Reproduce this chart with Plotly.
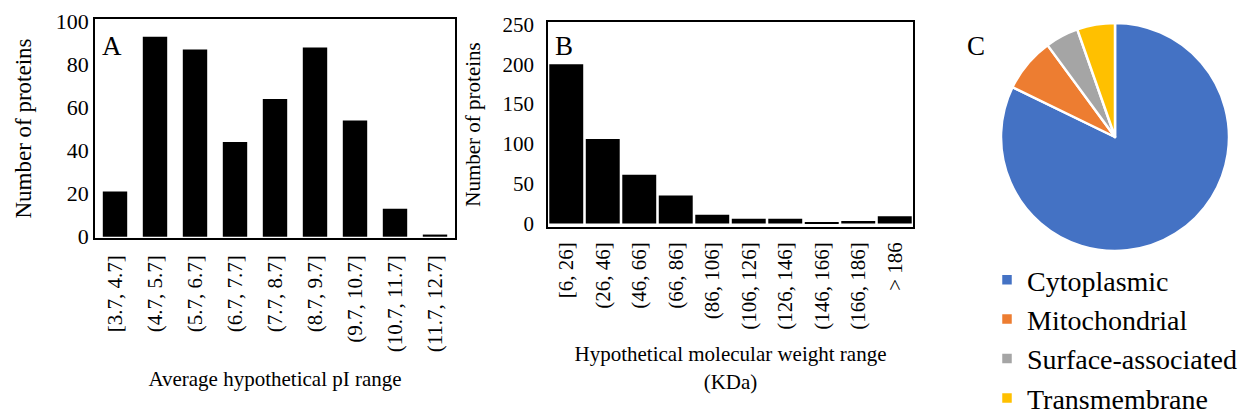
import plotly.graph_objects as go

# ---- data ----
pi_labels = ["[3.7, 4.7]", "(4.7, 5.7]", "(5.7, 6.7]", "(6.7, 7.7]", "(7.7, 8.7]",
             "(8.7, 9.7]", "(9.7, 10.7]", "(10.7, 11.7]", "(11.7, 12.7]"]
pi_counts = [21, 93, 87, 44, 64, 88, 54, 13, 1]

mw_labels = ["[6, 26]", "(26, 46]", "(46, 66]", "(66, 86]", "(86, 106]",
             "(106, 126]", "(126, 146]", "(146, 166]", "(166, 186]", "> 186"]
mw_counts = [200, 106, 61, 35, 11, 6, 6, 1, 3, 9]

loc_labels = ["Cytoplasmic", "Mitochondrial", "Surface-associated", "Transmembrane"]
loc_counts = [383, 36, 22, 25]
loc_colors = ["#4472C4", "#ED7D31", "#A5A5A5", "#FFC000"]

FONT = "Liberation Serif, Times New Roman, serif"
W, H = 1239, 417


def f(size):
    return dict(family=FONT, size=size, color="black")


fig = go.Figure()

fig.add_trace(go.Bar(x=pi_labels, y=pi_counts, marker_color="black",
                     showlegend=False, xaxis="x", yaxis="y"))
fig.add_trace(go.Bar(x=mw_labels, y=mw_counts, marker_color="black",
                     showlegend=False, xaxis="x2", yaxis="y2", width=0.93))
fig.add_trace(go.Pie(labels=loc_labels, values=loc_counts, sort=False,
                     direction="clockwise", rotation=0,
                     marker=dict(colors=loc_colors, line=dict(color="white", width=2.5)),
                     textinfo="none", hoverinfo="label+value",
                     domain=dict(x=[1001 / W, 1229 / W], y=[166 / H, 394 / H])))

axis_common = dict(showline=True, linecolor="black", linewidth=1.5, mirror=True,
                   showgrid=False, zeroline=False, automargin=False)

fig.update_layout(
    template="none",
    width=W, height=H,
    margin=dict(l=0, r=0, t=0, b=0, autoexpand=False),
    paper_bgcolor="white", plot_bgcolor="white",
    font=f(21),
    bargap=0.39,
    xaxis=dict(domain=[95 / W, 455 / W], anchor="y", tickangle=-90,
               tickfont=f(21), ticks="outside", ticklen=7,
               tickcolor="rgba(0,0,0,0)",
               title=dict(text="Average hypothetical pI range", font=f(21), standoff=20),
               **axis_common),
    yaxis=dict(domain=[(H - 238) / H, (H - 19) / H], anchor="x", range=[-0.6, 101.2],
               tickvals=[0, 20, 40, 60, 80, 100], tickfont=f(22), ticks="",
               title=dict(text="Number of proteins", font=f(23), standoff=18),
               **axis_common),
    xaxis2=dict(domain=[548 / W, 913 / W], anchor="y2", tickangle=-90,
                tickfont=f(21), ticks="outside", ticklen=5,
                tickcolor="rgba(0,0,0,0)",
                title=dict(text="Hypothetical molecular weight range<br>(KDa)",
                           font=f(21), standoff=18),
                **axis_common),
    yaxis2=dict(domain=[(H - 227) / H, (H - 22) / H], anchor="x2", range=[-4.5, 253],
                tickvals=[0, 50, 100, 150, 200, 250], tickfont=f(21),
                ticks="outside", ticklen=8, tickcolor="rgba(0,0,0,0)",
                title=dict(text="Number of proteins", font=f(21), standoff=16),
                **axis_common),
    legend=dict(x=987 / W, y=(H - 255) / H, xanchor="left", yanchor="top",
                font=f(28), bgcolor="rgba(0,0,0,0)"),
    annotations=[
        dict(text="A", x=112 / W, y=(H - 46) / H, xref="paper", yref="paper",
             xanchor="center", yanchor="middle", showarrow=False, font=f(27)),
        dict(text="B", x=564 / W, y=(H - 46) / H, xref="paper", yref="paper",
             xanchor="center", yanchor="middle", showarrow=False, font=f(27)),
        dict(text="C", x=976 / W, y=(H - 46) / H, xref="paper", yref="paper",
             xanchor="center", yanchor="middle", showarrow=False, font=f(27)),
    ],
)

fig.write_html("out.html")
